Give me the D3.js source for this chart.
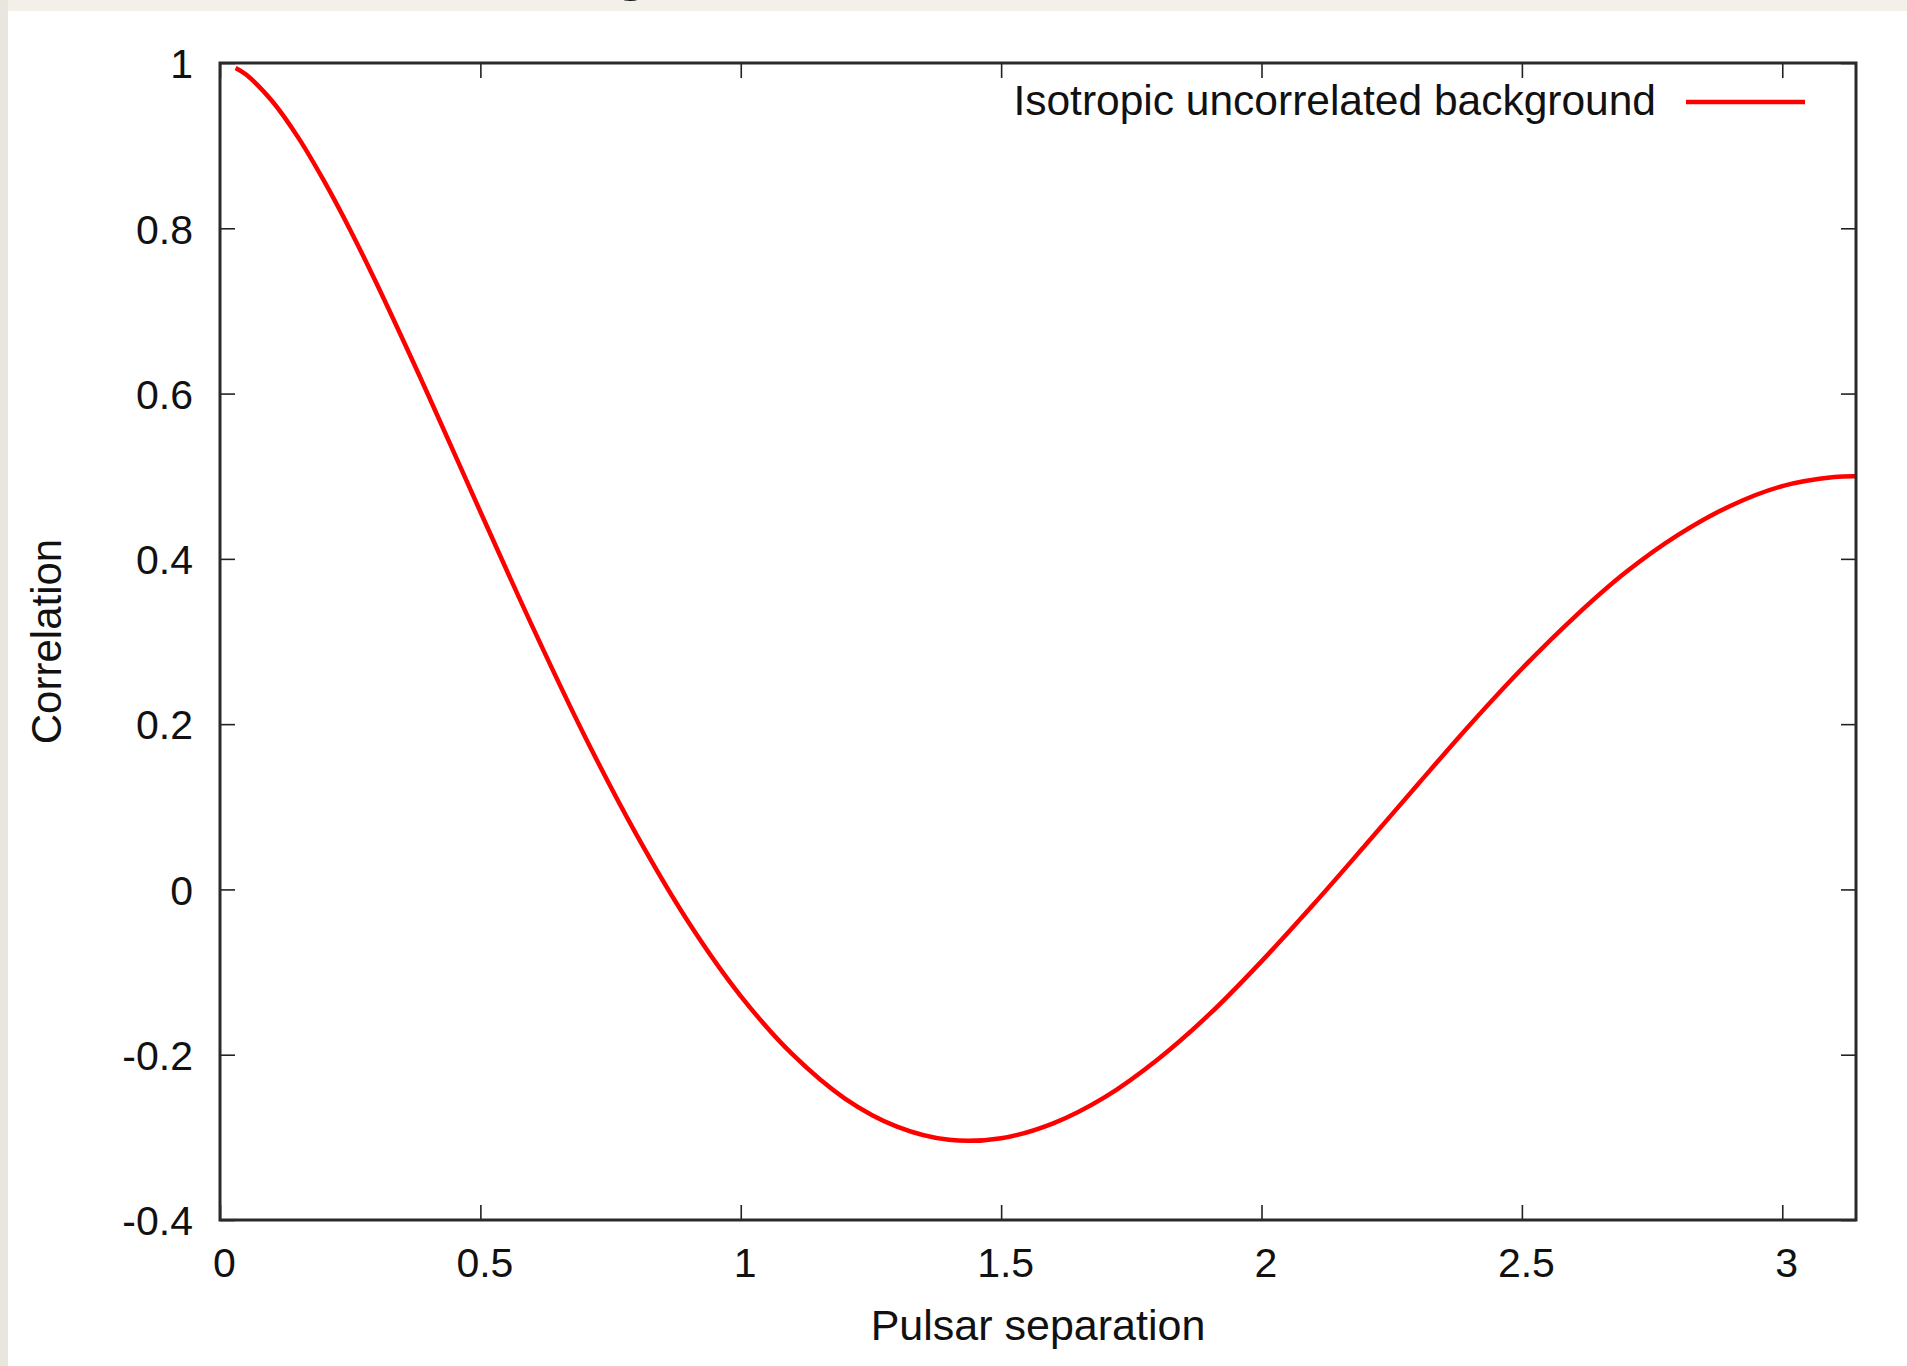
<!DOCTYPE html>
<html>
<head>
<meta charset="utf-8">
<script src="https://cdn.jsdelivr.net/npm/d3@7"></script>
<style>
  html, body { margin: 0; padding: 0; background: #ffffff; }
  svg { display: block; }
  text { font-family: "Liberation Sans", Arial, Helvetica, sans-serif; fill: #111; }
</style>
</head>
<body>
<svg id="chart" width="1907" height="1366"></svg>
<script>
// Pulsar separation (radians) and the expected correlation for an isotropic background
const separation = [0.03, 0.05, 0.10, 0.15, 0.20, 0.25, 0.30, 0.40, 0.50, 0.60, 0.70, 0.80, 0.90,
  1.00, 1.10, 1.20, 1.30, 1.40, 1.50, 1.60, 1.70, 1.80, 1.90, 2.00, 2.10, 2.20, 2.30,
  2.40, 2.50, 2.60, 2.70, 2.80, 2.90, 3.00, 3.10, 3.14159];
const correlation = [0.994, 0.986, 0.954, 0.910, 0.857, 0.798, 0.734, 0.598, 0.457, 0.318, 0.186, 0.066, -0.040,
  -0.129, -0.200, -0.253, -0.287, -0.303, -0.301, -0.283, -0.251, -0.206, -0.151, -0.087, -0.018, 0.054, 0.127,
  0.199, 0.267, 0.329, 0.384, 0.429, 0.464, 0.488, 0.499, 0.500];

const xTicks = [0, 0.5, 1, 1.5, 2, 2.5, 3];
const yTicks = [-0.4, -0.2, 0, 0.2, 0.4, 0.6, 0.8, 1];
const seriesName = "Isotropic uncorrelated background";
const xTitle = "Pulsar separation";
const yTitle = "Correlation";

const W = 1907, H = 1366;
const plot = { left: 220, right: 1856, top: 63, bottom: 1220 };

const svg = d3.select("#chart");

// page backdrop with the light border along the top and left edges
svg.append("rect").attr("x", 0).attr("y", 0).attr("width", W).attr("height", H).attr("fill", "#ffffff");
svg.append("rect").attr("x", 0).attr("y", 0).attr("width", W).attr("height", 11).attr("fill", "#f3f0ea");
svg.append("rect").attr("x", 0).attr("y", 0).attr("width", 8).attr("height", H).attr("fill", "#e9e6e0");
// the foot of the heading above, cut off by the page edge
svg.append("text").attr("x", 631).attr("y", -12).attr("text-anchor", "middle")
  .style("font-family", "'Liberation Serif', serif").style("font-size", "62px").text("g");

const x = d3.scaleLinear().domain([0, Math.PI]).range([plot.left, plot.right]);
const y = d3.scaleLinear().domain([-0.4, 1]).range([plot.bottom, plot.top]);

const fmt = d => String(d);
const tickLen = 15;

function styleAxis(g) {
  g.select(".domain").remove();
  g.selectAll(".tick line").attr("stroke", "#222").attr("stroke-width", 1.6);
}

// bottom axis with labels, ticks pointing inward
svg.append("g").attr("transform", `translate(0,${plot.bottom})`)
  .call(d3.axisBottom(x).tickValues(xTicks).tickFormat(fmt).tickSize(-tickLen).tickPadding(0))
  .call(styleAxis)
  .call(g => g.selectAll(".tick text")
    .attr("y", 57).attr("dy", null).attr("dx", 4)
    .style("font-size", "41px").style("font-family", "'Liberation Sans', Arial, sans-serif").attr("fill", "#111"));

// mirrored ticks on top
svg.append("g").attr("transform", `translate(0,${plot.top})`)
  .call(d3.axisTop(x).tickValues(xTicks).tickFormat("").tickSize(-tickLen))
  .call(styleAxis);

// left axis with labels
svg.append("g").attr("transform", `translate(${plot.left},0)`)
  .call(d3.axisLeft(y).tickValues(yTicks).tickFormat(fmt).tickSize(-tickLen).tickPadding(0))
  .call(styleAxis)
  .call(g => g.selectAll(".tick text")
    .attr("x", -27).attr("dy", "0.36em")
    .style("font-size", "41px").style("font-family", "'Liberation Sans', Arial, sans-serif").attr("fill", "#111"));

// mirrored ticks on the right
svg.append("g").attr("transform", `translate(${plot.right},0)`)
  .call(d3.axisRight(y).tickValues(yTicks).tickFormat("").tickSize(-tickLen))
  .call(styleAxis);

// correlation curve
const pts = separation.map((s, i) => [s, correlation[i]]);
const line = d3.line().x(d => x(d[0])).y(d => y(d[1])).curve(d3.curveCatmullRom.alpha(0.5));
svg.append("path").datum(pts)
  .attr("d", line)
  .attr("fill", "none").attr("stroke", "#ff0000").attr("stroke-width", 4.5)
  .attr("stroke-linejoin", "round").attr("stroke-linecap", "butt");

// plot frame
svg.append("rect")
  .attr("x", plot.left).attr("y", plot.top)
  .attr("width", plot.right - plot.left).attr("height", plot.bottom - plot.top)
  .attr("fill", "none").attr("stroke", "#2a2a2a").attr("stroke-width", 3);

// legend
svg.append("text").attr("x", 1656).attr("y", 115).attr("text-anchor", "end")
  .style("font-size", "42.5px").text(seriesName);
svg.append("line").attr("x1", 1686).attr("x2", 1805).attr("y1", 102).attr("y2", 102)
  .attr("stroke", "#ff0000").attr("stroke-width", 4.5);

// axis titles
svg.append("text").attr("x", (plot.left + plot.right) / 2).attr("y", 1340)
  .attr("text-anchor", "middle").style("font-size", "43px").text(xTitle);
svg.append("text")
  .attr("transform", `translate(61,${(plot.top + plot.bottom) / 2}) rotate(-90)`)
  .attr("text-anchor", "middle").style("font-size", "42px").text(yTitle);
</script>
</body>
</html>
